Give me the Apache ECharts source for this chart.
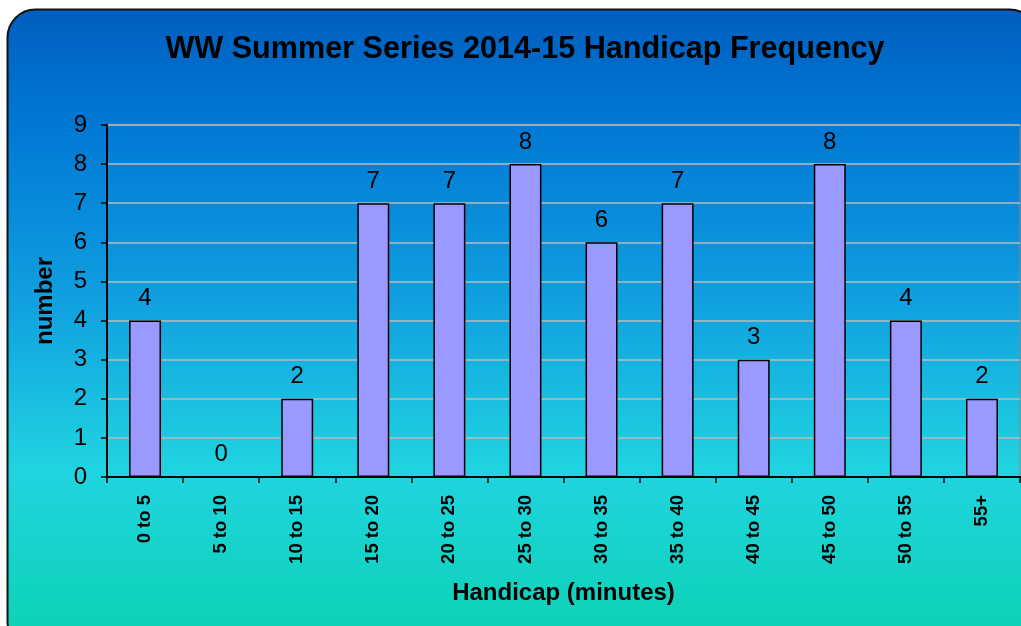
<!DOCTYPE html>
<html><head><meta charset="utf-8">
<script src="https://cdn.jsdelivr.net/npm/echarts@6/dist/echarts.min.js"></script>
<style>html,body{margin:0;padding:0;background:#fff;}#c{width:1021px;height:626px;}</style>
</head><body><div id="c"></div>
<script>
const categories = ["0 to 5","5 to 10","10 to 15","15 to 20","20 to 25","25 to 30","30 to 35","35 to 40","40 to 45","45 to 50","50 to 55","55+"];
const counts = [4,0,2,7,7,8,6,7,3,8,4,2];
const yTicks = [0,1,2,3,4,5,6,7,8,9];

const chart = echarts.init(document.getElementById('c'), null, {renderer:'canvas'});
chart.setOption({
  animation:false,
  graphic:[{
    type:'rect', z:-10, silent:true,
    shape:{x:7.5,y:9.5,width:1030,height:640,r:28},
    style:{
      fill:{type:'linear',x:0,y:0,x2:0,y2:1,colorStops:[
        {offset:0,color:'#005EBE'},
        {offset:0.18,color:'#0078D4'},
        {offset:0.45,color:'#109FE0'},
        {offset:0.72,color:'#20D4E0'},
        {offset:1,color:'#0AD2B0'}]},
      stroke:'#111',lineWidth:2
    }
  }],
  title:{text:'WW Summer Series 2014-15 Handicap Frequency',left:520,top:29,textAlign:'center',
    textStyle:{fontFamily:'Liberation Sans',fontWeight:'bold',fontSize:30.6,color:'#000'}},
  grid:{left:107,right:1,top:125,bottom:149,show:true,borderColor:'#888',borderWidth:1,backgroundColor:'transparent'},
  xAxis:{type:'category',data:categories,
    name:'Handicap (minutes)',nameLocation:'middle',nameGap:104,
    nameTextStyle:{fontFamily:'Liberation Sans',fontWeight:'bold',fontSize:24,color:'#000'},
    axisLine:{lineStyle:{color:'#000',width:2}},
    axisTick:{show:true,length:6,lineStyle:{color:'#000',width:1.5}},
    axisLabel:{rotate:90,fontFamily:'Liberation Sans',fontWeight:'bold',fontSize:18.5,color:'#000',margin:18},
    splitLine:{show:false}},
  yAxis:{type:'value',min:0,max:9,interval:1,
    name:'number',nameLocation:'middle',nameGap:50,
    nameTextStyle:{fontFamily:'Liberation Sans',fontWeight:'bold',fontSize:24,color:'#000'},
    axisLine:{show:true,lineStyle:{color:'#000',width:2}},
    axisTick:{show:true,length:6,lineStyle:{color:'#000',width:1.5}},
    axisLabel:{fontFamily:'Liberation Sans',fontSize:24,color:'#000',margin:20,
      formatter:v=>yTicks.includes(v)?String(v):''},
    splitLine:{show:true,lineStyle:{color:'#BBBBBB',width:1.5}}},
  series:[{type:'bar',data:counts,barWidth:'42%',
    itemStyle:{color:'#9999FF',borderColor:'#000',borderWidth:1.5},
    label:{show:true,position:'top',distance:10,fontFamily:'Liberation Sans',fontSize:24,color:'#000'}}]
});
</script></body></html>
